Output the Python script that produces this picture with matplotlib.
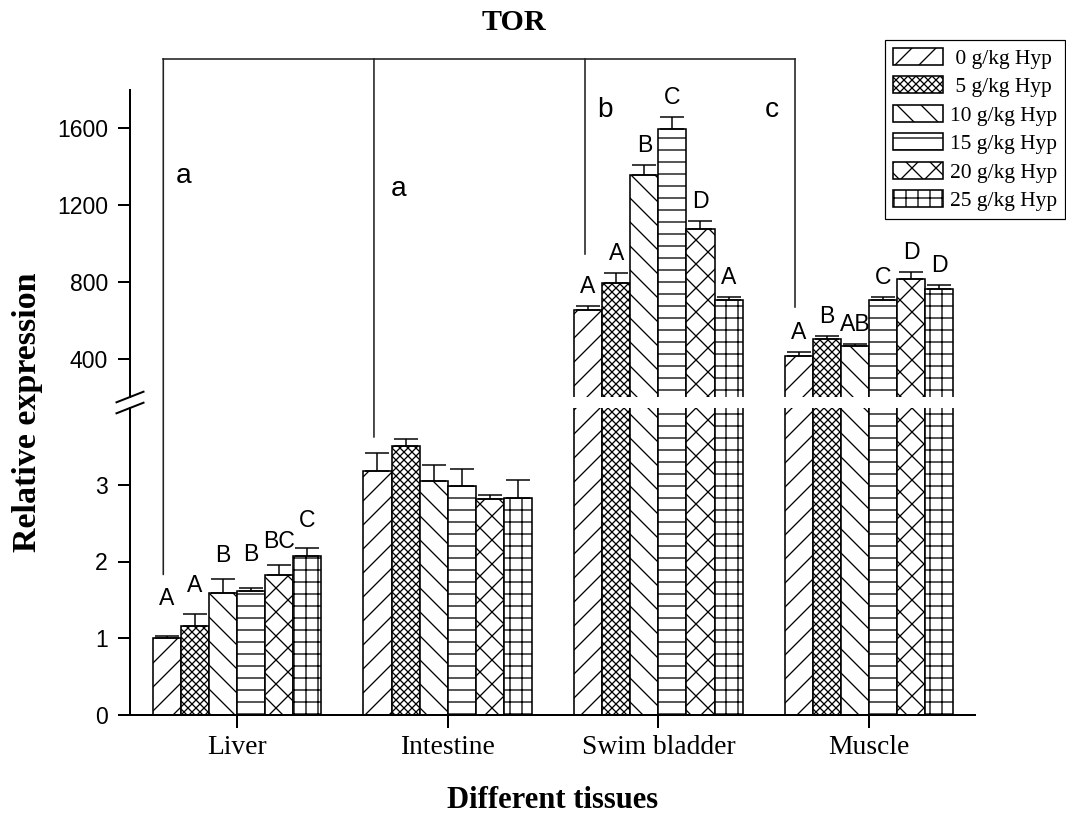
import numpy as np
import matplotlib
matplotlib.use('Agg')
import matplotlib.pyplot as plt
from matplotlib.patches import ConnectionPatch

# data
tissues = ['Liver', 'Intestine', 'Swim bladder', 'Muscle']
doses = [' 0 g/kg Hyp', ' 5 g/kg Hyp', '10 g/kg Hyp', '15 g/kg Hyp', '20 g/kg Hyp', '25 g/kg Hyp']

liver = [1.00, 1.16, 1.59, 1.62, 1.82, 2.07]
liver_err = [0.03, 0.15, 0.18, 0.035, 0.14, 0.11]
intestine = [3.18, 3.51, 3.05, 2.99, 2.81, 2.83]
intestine_err = [0.235, 0.08, 0.21, 0.22, 0.06, 0.235]
swim = [655, 792, 1358, 1598, 1075, 704]
swim_err = [20, 52, 52, 61, 44, 18]
muscle = [414, 502, 467, 703, 817, 764]
muscle_err = [19, 17, 9, 17, 33, 22]

liver_sig = ['A', 'A', 'B', 'B', 'BC', 'C']
swim_sig = ['A', 'A', 'B', 'C', 'D', 'A']
muscle_sig = ['A', 'B', 'AB', 'C', 'D', 'D']

tissue_sig = ['a', 'a', 'b', 'c']
# where the bracket lines end (liver/intestine on lower axis, others on upper)
bracket_end = [1.83, 3.62, 944, 671]

hatches = ['/', 'xxx', '\\', '-', 'x', '+']

vals = np.array([liver, intestine, swim, muscle], dtype=float)
errs = np.array([liver_err, intestine_err, swim_err, muscle_err], dtype=float)
sigs = [liver_sig, None, swim_sig, muscle_sig]
# the liver letters sit at uneven heights in the original
sig_pad = [[26, 17, 12, 22, 12, 16], None, [8] * 6, [8] * 6]

plt.rcParams['hatch.linewidth'] = 1.3
serif = 'Liberation Serif'
sans = 'Liberation Sans'

W, H = 1066, 814
fig = plt.figure(figsize=(W / 72, H / 72), dpi=72)
ax_low = fig.add_axes([130 / W, 1 - 715 / H, 845 / W, 307 / H])
ax_top = fig.add_axes([130 / W, 1 - 397 / H, 845 / W, 307 / H])

x = np.arange(len(tissues))
width = 0.8 / 6
offsets = (np.arange(6) - 2.5) * width

for ax in (ax_low, ax_top):
    for j in range(6):
        ax.bar(x + offsets[j], vals[:, j], width, color='white', edgecolor='black',
               hatch=hatches[j], linewidth=1.6, label=doses[j])
        ax.errorbar(x + offsets[j], vals[:, j], yerr=[np.zeros(4), errs[:, j]],
                    fmt='none', ecolor='black', elinewidth=1.5, capsize=12, capthick=1.5)

# significance letters above bars
for i, s in enumerate(sigs):
    if s is None:
        continue
    for j in range(6):
        ax = ax_low if vals[i, j] < 4 else ax_top
        ax.annotate(s[j], (x[i] + offsets[j], vals[i, j] + errs[i, j]), xytext=(0, sig_pad[i][j]),
                    textcoords='offset points', ha='center', va='bottom',
                    fontsize=23, family=sans)

ax_low.set_ylim(0, 4)
ax_low.set_yticks([0, 1, 2, 3])
ax_top.set_ylim(200, 1800)
ax_top.set_yticks([400, 800, 1200, 1600])
for ax in (ax_low, ax_top):
    ax.set_xlim(-0.508, 3.503)
    ax.spines['top'].set_visible(False)
    ax.spines['right'].set_visible(False)
    ax.spines['left'].set_linewidth(2)
    ax.spines['bottom'].set_linewidth(2)
    ax.tick_params(axis='y', length=12, width=2, pad=10, labelsize=23)
    for lab in ax.get_yticklabels():
        lab.set_family(sans)
ax_top.spines['bottom'].set_visible(False)
ax_top.tick_params(axis='x', bottom=False, labelbottom=False)
ax_low.set_xticks(x)
ax_low.set_xticklabels(tissues, family=serif, fontsize=27.5)
ax_low.tick_params(axis='x', length=13, width=2, pad=7)

# axis break marks
dx, dy = 13.5 / 845, 5.3 / 307
ax_low.plot([-dx, dx], [1 - dy, 1 + dy], transform=ax_low.transAxes, color='black', lw=2, clip_on=False)
ax_top.plot([-dx, dx], [-dy, dy], transform=ax_top.transAxes, color='black', lw=2, clip_on=False)

# tissue brackets
bx = x - 0.35
top_y = 1963
ax_top.plot([bx[0], bx[-1]], [top_y, top_y], color='#222222', lw=1.6, clip_on=False)
for i in range(4):
    if i < 2:
        con = ConnectionPatch((bx[i], top_y), (bx[i], bracket_end[i]), coordsA=ax_top.transData,
                              coordsB=ax_low.transData, color='#222222', lw=1.6)
        fig.add_artist(con)
    else:
        ax_top.plot([bx[i], bx[i]], [top_y, bracket_end[i]], color='#222222', lw=1.6, clip_on=False)

letter_dx = [0.094, 0.116, 0.097, -0.111]
letter_y = [1353, 1285, 1695, 1695]
for i in range(4):
    ax_top.text(bx[i] + letter_dx[i], letter_y[i], tissue_sig[i], fontsize=28, family=sans,
                ha='center', va='center', clip_on=False)

fig.text(514 / W, 1 - 22 / H, 'TOR', fontsize=30, fontweight='bold', family=serif, ha='center', va='center')
fig.text(28 / W, 1 - 412 / H, 'Relative expression', rotation=90, fontsize=34, fontweight='bold',
         family=serif, ha='center', va='center')
fig.text(553 / W, 1 - 800 / H, 'Different tissues', fontsize=30.5, fontweight='bold', family=serif,
         ha='center', va='center')

handles, labels = ax_low.get_legend_handles_labels()
leg = fig.legend(handles, labels, loc='upper left', bbox_to_anchor=(885 / W, 1 - 40 / H),
                 prop={'family': serif, 'size': 21.5}, frameon=True, fancybox=False, edgecolor='black',
                 framealpha=1, handlelength=2.33, handleheight=0.84, labelspacing=0.35,
                 handletextpad=0.33, borderpad=0.36, borderaxespad=0)
leg.get_frame().set_linewidth(1.2)

fig.savefig('out.png', dpi=72)
